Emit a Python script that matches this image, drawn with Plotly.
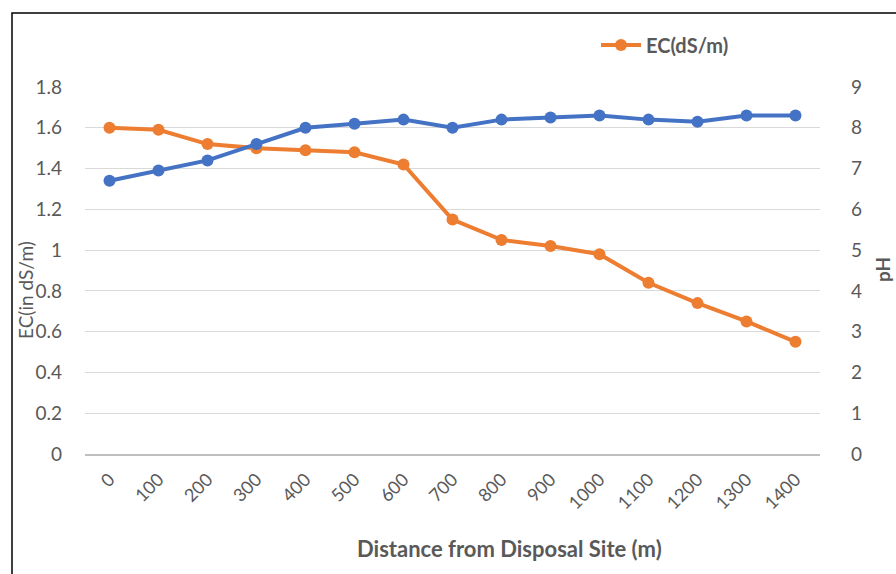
import plotly.graph_objects as go

distance = ["0", "100", "200", "300", "400", "500", "600", "700", "800", "900",
            "1000", "1100", "1200", "1300", "1400"]
ec_values = [1.60, 1.59, 1.52, 1.50, 1.49, 1.48, 1.42, 1.15, 1.05, 1.02, 0.98, 0.84, 0.74, 0.65, 0.55]
ph_values = [6.7, 6.95, 7.2, 7.6, 8.0, 8.1, 8.2, 8.0, 8.2, 8.25, 8.3, 8.2, 8.15, 8.3, 8.3]
left_ticks = [0, 0.2, 0.4, 0.6, 0.8, 1, 1.2, 1.4, 1.6, 1.8]
left_tick_text = ["0", "0.2", "0.4", "0.6", "0.8", "1", "1.2", "1.4", "1.6", "1.8"]
right_ticks = [0, 1, 2, 3, 4, 5, 6, 7, 8, 9]

ORANGE = "#ED7D31"
BLUE = "#4472C4"
GREY = "#595959"
FONT = "Lato"

fig = go.Figure()
fig.add_trace(go.Scatter(
    x=distance, y=ph_values, name="pH", yaxis="y2", mode="lines+markers",
    line=dict(color=BLUE, width=4), marker=dict(size=12, color=BLUE),
    showlegend=False))
fig.add_trace(go.Scatter(
    x=distance, y=ec_values, name="<b>EC(dS/m)</b>", mode="lines+markers",
    line=dict(color=ORANGE, width=4), marker=dict(size=12, color=ORANGE)))

fig.update_layout(
    width=896, height=574,
    margin=dict(l=85, r=76, t=87, b=120, autoexpand=False),
    plot_bgcolor="white", paper_bgcolor="white",
    font=dict(family=FONT, color=GREY),
    xaxis=dict(type="category", range=[-0.5, 14.5], tickangle=-45, automargin=False,
               tickfont=dict(size=18, color=GREY), showgrid=False,
               showline=True, linecolor="#BFBFBF", linewidth=2, ticks="",
               ticklabelstandoff=6),
    yaxis=dict(range=[0, 1.8], tickvals=left_ticks, ticktext=left_tick_text,
               tickfont=dict(size=19, color=GREY), showgrid=True, automargin=False,
               gridcolor="#D9D9D9", gridwidth=1, zeroline=False, ticks="",
               ticklabelstandoff=22, showline=False),
    yaxis2=dict(range=[0, 9], tickvals=right_ticks, overlaying="y", side="right",
                tickfont=dict(size=19, color=GREY), showgrid=False, automargin=False,
                zeroline=False, ticks="", ticklabelstandoff=30),
    legend=dict(orientation="h", x=(596 - 85) / 735, y=(454 - 45) / 367,
                xanchor="left", yanchor="middle", itemwidth=40,
                font=dict(size=20, color=GREY, family=FONT), bgcolor="rgba(0,0,0,0)"),
)

fig.add_annotation(text="<b>Distance from Disposal Site (m)</b>", xref="paper", yref="paper",
                   x=(509 - 85) / 735, y=(454 - 548) / 367,
                   showarrow=False, font=dict(size=22, color=GREY),
                   xanchor="center", yanchor="middle")
fig.add_annotation(text="EC(in dS/m)", xref="paper", yref="paper",
                   x=(25 - 85) / 735, y=(454 - 290) / 367, textangle=-90,
                   showarrow=False, font=dict(size=19, color=GREY),
                   xanchor="center", yanchor="middle")
fig.add_annotation(text="<b>pH</b>", xref="paper", yref="paper",
                   x=(882 - 85) / 735, y=(454 - 270) / 367, textangle=-90,
                   showarrow=False, font=dict(size=19, color=GREY),
                   xanchor="center", yanchor="middle")

fig.add_shape(type="rect", xref="paper", yref="paper",
              x0=(12 - 85) / 735, x1=1.3, y0=-0.5, y1=(454 - 13) / 367,
              line=dict(color="black", width=1.5), fillcolor="rgba(0,0,0,0)")

fig.write_html("out.html", config={"displayModeBar": False},
               post_script="document.body.style.margin='0';document.body.style.overflow='hidden';")
